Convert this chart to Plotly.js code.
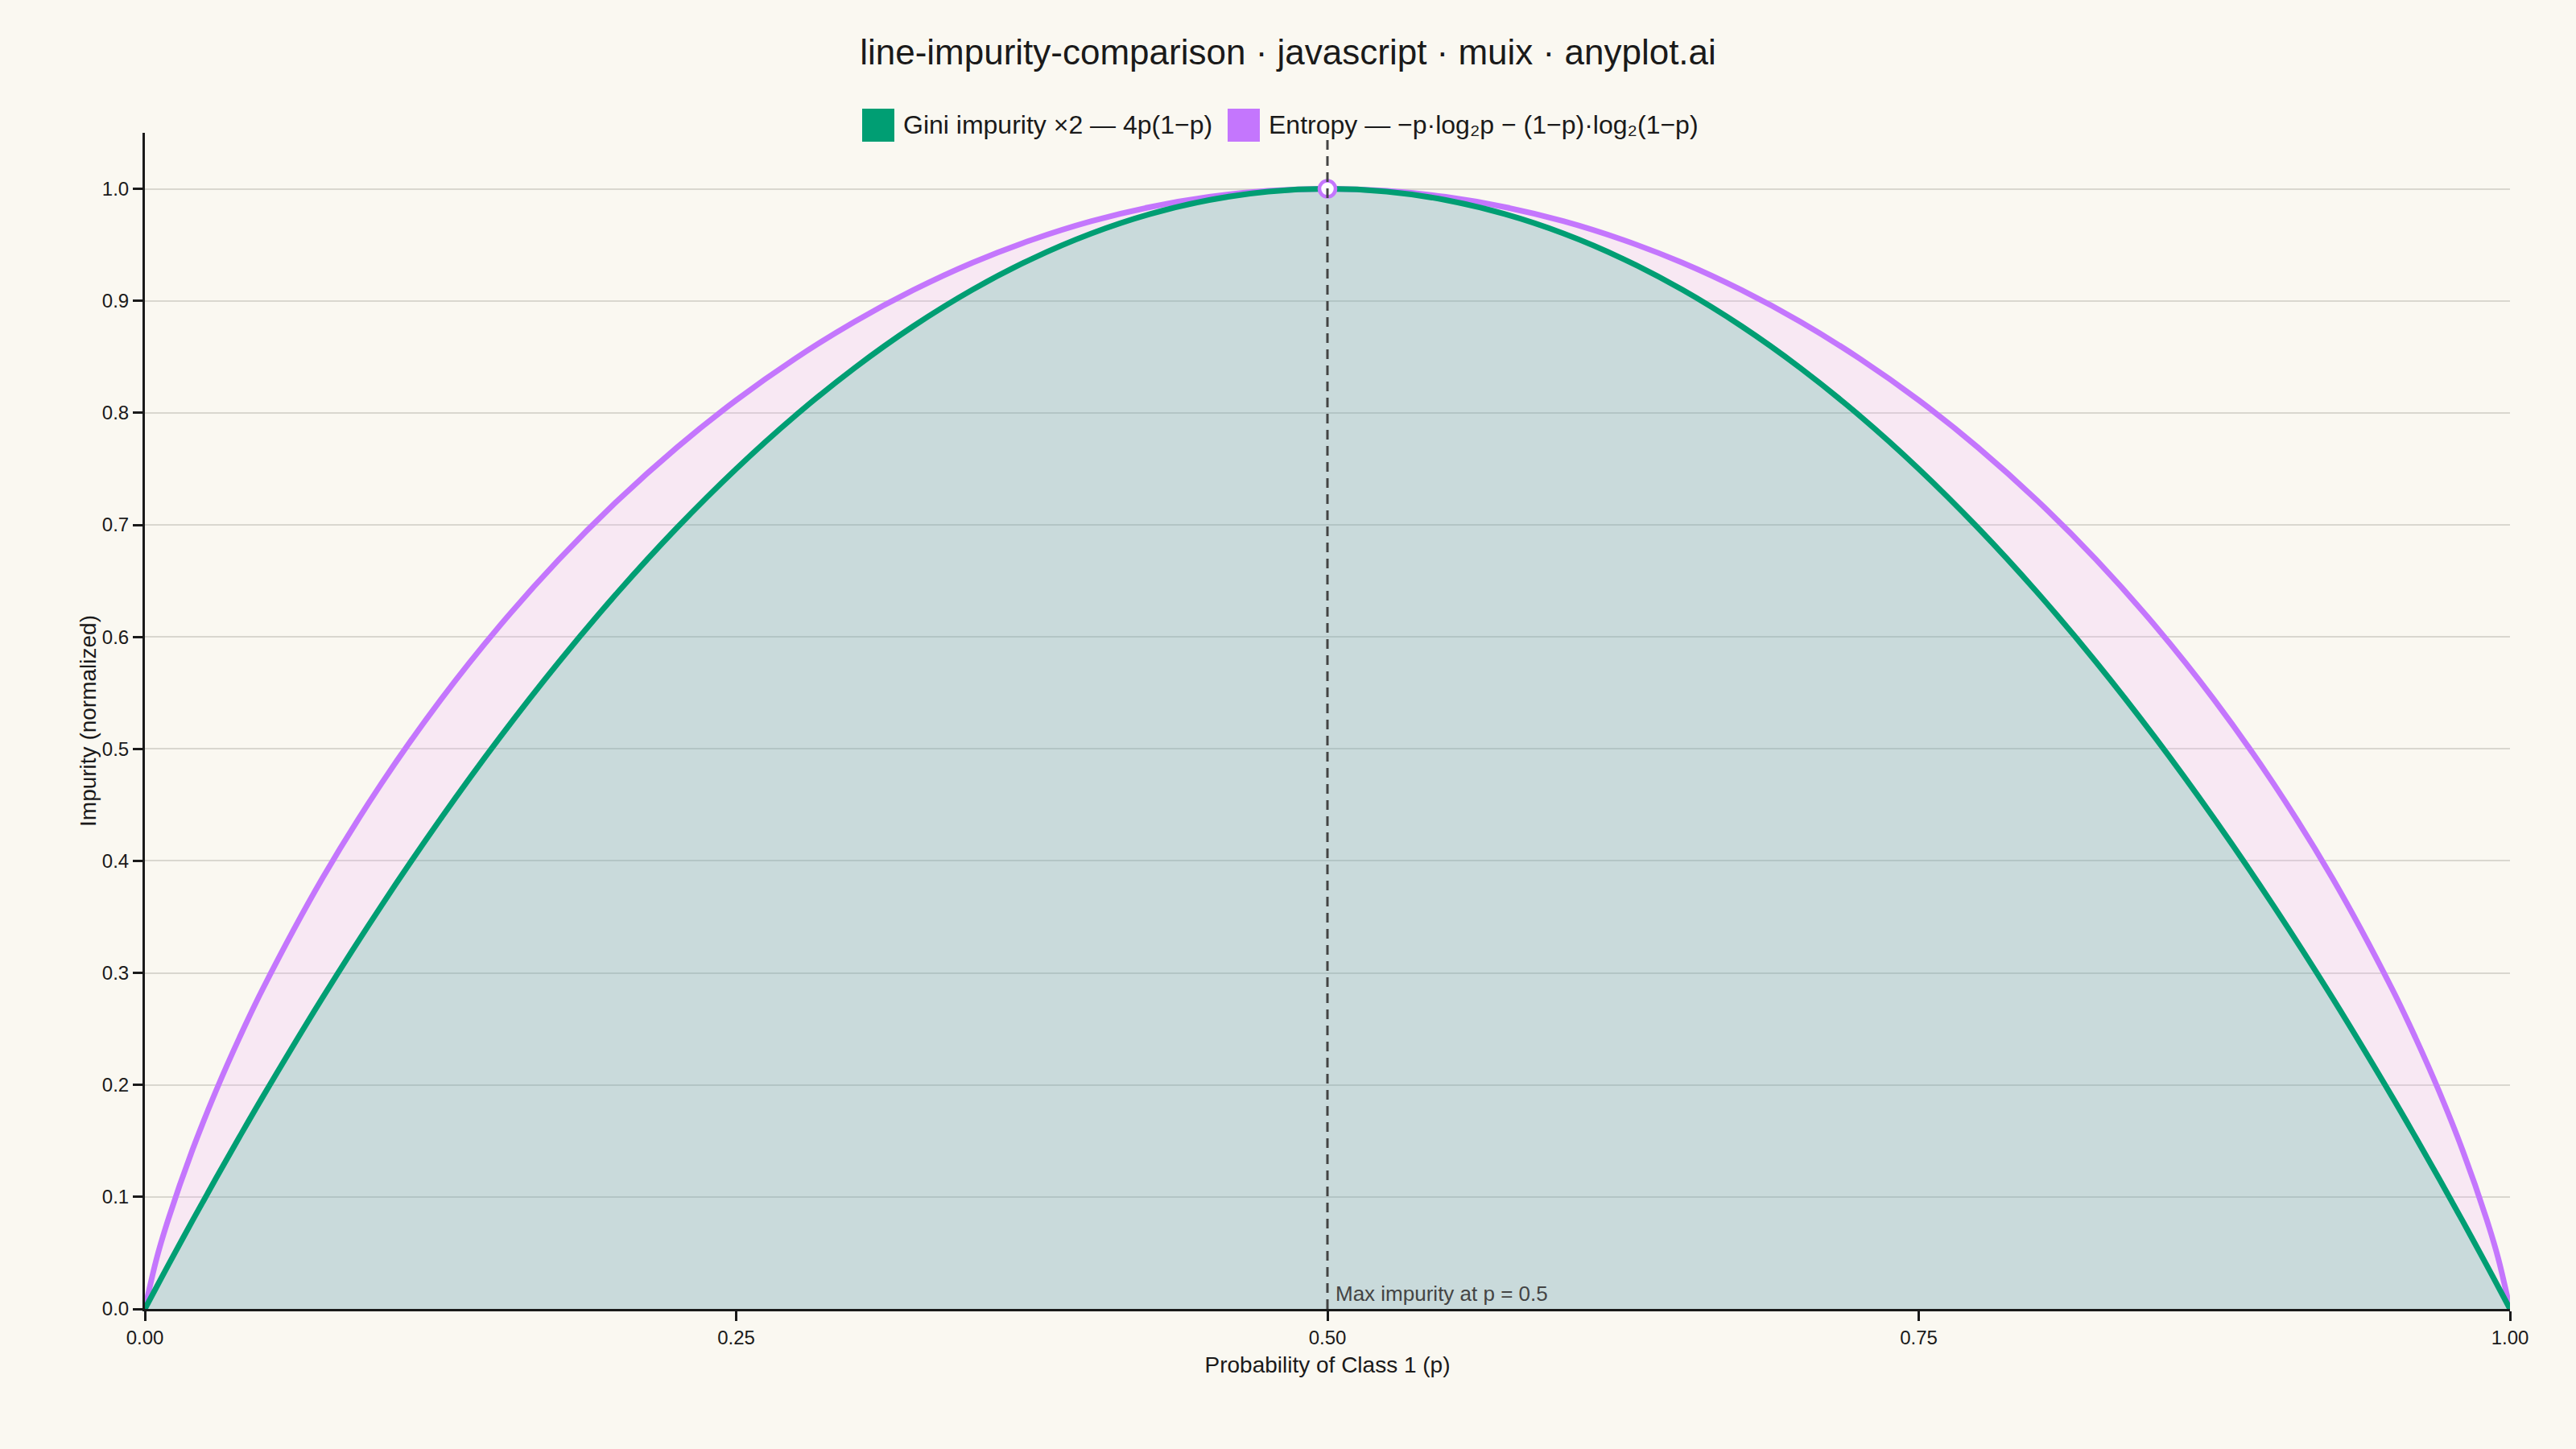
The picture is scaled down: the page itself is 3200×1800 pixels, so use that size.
<!DOCTYPE html>
<html>
<head>
<meta charset="utf-8">
<script src="https://cdn.plot.ly/plotly-3.0.1.min.js"></script>
<style>
  html, body { margin: 0; padding: 0; background: #FAF8F1; }
  #chart { width: 3200px; height: 1800px; }
</style>
</head>
<body>
<div id="chart"></div>
<script>
// ---- data ----
const probability = [0, 0.005, 0.01, 0.02, 0.03, 0.04, 0.05, 0.075, 0.1, 0.125, 0.15, 0.175, 0.2, 0.225, 0.25, 0.275, 0.3, 0.325, 0.35, 0.375, 0.4, 0.425, 0.45, 0.475, 0.5,
  0.525, 0.55, 0.575, 0.6, 0.625, 0.65, 0.675, 0.7, 0.725, 0.75, 0.775, 0.8, 0.825, 0.85, 0.875, 0.9, 0.925, 0.95, 0.96, 0.97, 0.98, 0.99, 0.995, 1];

const giniScaled = [0, 0.0199, 0.0396, 0.0784, 0.1164, 0.1536, 0.19, 0.2775, 0.36, 0.4375, 0.51, 0.5775, 0.64, 0.6975, 0.75, 0.7975, 0.84, 0.8775, 0.91, 0.9375, 0.96, 0.9775, 0.99, 0.9975, 1,
  0.9975, 0.99, 0.9775, 0.96, 0.9375, 0.91, 0.8775, 0.84, 0.7975, 0.75, 0.6975, 0.64, 0.5775, 0.51, 0.4375, 0.36, 0.2775, 0.19, 0.1536, 0.1164, 0.0784, 0.0396, 0.0199, 0];

const entropy = [0, 0.0454, 0.0808, 0.1414, 0.1944, 0.2423, 0.2864, 0.3843, 0.4690, 0.5436, 0.6098, 0.6690, 0.7219, 0.7692, 0.8113, 0.8485, 0.8813, 0.9097, 0.9341, 0.9544, 0.9710, 0.9837, 0.9928, 0.9982, 1,
  0.9982, 0.9928, 0.9837, 0.9710, 0.9544, 0.9341, 0.9097, 0.8813, 0.8485, 0.8113, 0.7692, 0.7219, 0.6690, 0.6098, 0.5436, 0.4690, 0.3843, 0.2864, 0.2423, 0.1944, 0.1414, 0.0808, 0.0454, 0];

const peakP = [0.5];
const peakValue = [1.0];

const xTickVals = [0, 0.25, 0.5, 0.75, 1];
const xTickText = ['0.00', '0.25', '0.50', '0.75', '1.00'];
const yTickVals = [0, 0.1, 0.2, 0.3, 0.4, 0.5, 0.6, 0.7, 0.8, 0.9, 1.0];
const yTickText = ['0.0', '0.1', '0.2', '0.3', '0.4', '0.5', '0.6', '0.7', '0.8', '0.9', '1.0'];

const seriesNames = ['Gini impurity ×2 — 4p(1−p)', 'Entropy — −p·log₂p − (1−p)·log₂(1−p)'];

// ---- styles ----
const GREEN = '#009E73';
const PURPLE = '#C476FD';
const BG = '#FAF8F1';
const FONT = 'Liberation Sans, Arial, sans-serif';
const INK = '#1a1a1a';

const traces = [
  {
    x: probability, y: entropy, type: 'scatter', mode: 'lines',
    name: seriesNames[1], showlegend: false,
    line: { color: PURPLE, width: 7, shape: 'spline', smoothing: 1 },
    fill: 'tozeroy', fillcolor: 'rgba(240,168,255,0.2)',
    hoverinfo: 'x+y'
  },
  {
    x: probability, y: giniScaled, type: 'scatter', mode: 'lines',
    name: seriesNames[0], showlegend: false,
    line: { color: GREEN, width: 7, shape: 'spline', smoothing: 1 },
    fill: 'tozeroy', fillcolor: 'rgba(0,158,115,0.19)',
    hoverinfo: 'x+y'
  },
  {
    x: peakP, y: peakValue, type: 'scatter', mode: 'markers',
    showlegend: false, cliponaxis: false,
    marker: { size: 20, color: '#FFFFFF', line: { color: PURPLE, width: 4.5 } },
    hoverinfo: 'x+y'
  }
];

// legend drawn in paper space
const plotL = 180, plotR = 3118, plotT = 165, plotB = 1626;
const px = v => (v - plotL) / (plotR - plotL);
const py = v => (plotB - v) / (plotB - plotT);

const layout = {
  width: 3200, height: 1800,
  paper_bgcolor: BG, plot_bgcolor: BG,
  font: { family: FONT, color: INK, size: 24 },
  margin: { l: plotL, r: 3200 - plotR, t: plotT, b: 1800 - plotB, pad: 0 },
  showlegend: false,
  title: {
    text: 'line-impurity-comparison · javascript · muix · anyplot.ai',
    font: { family: FONT, size: 44, color: INK },
    x: 0.5, xanchor: 'center', xref: 'container',
    y: 1 - 65 / 1800, yanchor: 'middle', yref: 'container'
  },
  xaxis: {
    range: [0, 1], tickvals: xTickVals, ticktext: xTickText,
    showgrid: false, zeroline: false,
    showline: true, linecolor: INK, linewidth: 3,
    ticks: 'outside', ticklen: 12, tickwidth: 3, tickcolor: INK,
    tickfont: { family: FONT, size: 24, color: INK },
    title: { text: 'Probability of Class 1 (p)', font: { family: FONT, size: 28, color: INK }, standoff: 12 }
  },
  yaxis: {
    range: [0, 1.05], tickvals: yTickVals, ticktext: yTickText,
    showgrid: true, gridcolor: '#D9D7CF', gridwidth: 2,
    zeroline: false,
    showline: true, linecolor: INK, linewidth: 3,
    ticks: 'outside', ticklen: 12, tickwidth: 3, tickcolor: INK,
    tickfont: { family: FONT, size: 24, color: INK },
    title: { text: 'Impurity (normalized)', font: { family: FONT, size: 28, color: INK }, standoff: 0 }
  },
  shapes: [
    {
      type: 'line', xref: 'x', yref: 'paper', x0: peakP[0], x1: peakP[0], y0: 0, y1: 1,
      line: { color: '#444444', width: 3, dash: '12px,8px' }, layer: 'above'
    },
    {
      type: 'rect', xref: 'paper', yref: 'paper',
      x0: px(1071), x1: px(1111), y0: py(176), y1: py(135),
      fillcolor: GREEN, line: { width: 0 }
    },
    {
      type: 'rect', xref: 'paper', yref: 'paper',
      x0: px(1525), x1: px(1565), y0: py(176), y1: py(135),
      fillcolor: PURPLE, line: { width: 0 }
    }
  ],
  annotations: [
    {
      x: peakP[0], y: 0, xref: 'x', yref: 'y', xanchor: 'left', yanchor: 'bottom',
      xshift: 8, yshift: 2, showarrow: false,
      text: 'Max impurity at p = 0.5',
      font: { family: FONT, size: 26, color: '#444444' }
    },
    {
      x: px(1120), y: py(155.5), xref: 'paper', yref: 'paper', xanchor: 'left', yanchor: 'middle',
      showarrow: false, text: seriesNames[0],
      font: { family: FONT, size: 32, color: INK }
    },
    {
      x: px(1574), y: py(155.5), xref: 'paper', yref: 'paper', xanchor: 'left', yanchor: 'middle',
      showarrow: false, text: seriesNames[1],
      font: { family: FONT, size: 32, color: INK }
    }
  ]
};

Plotly.newPlot('chart', traces, layout, { displayModeBar: false, staticPlot: true });
</script>
</body>
</html>
